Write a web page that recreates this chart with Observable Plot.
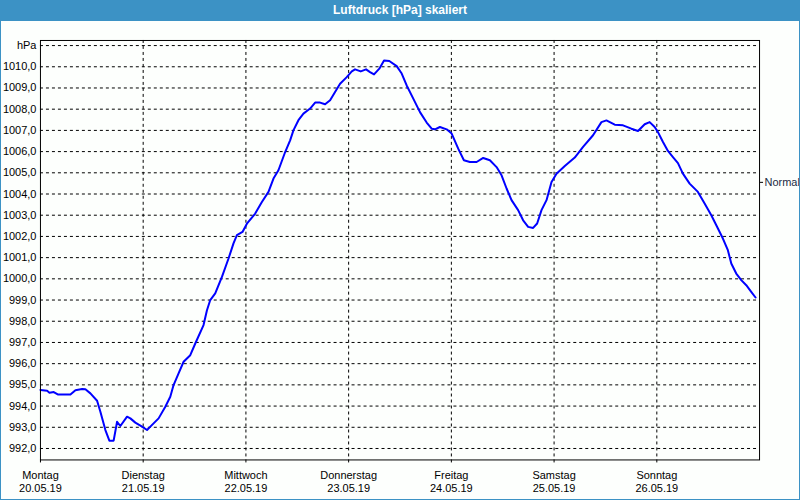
<!DOCTYPE html>
<html>
<head>
<meta charset="utf-8">
<script src="https://cdn.jsdelivr.net/npm/d3@7"></script>
<script src="https://cdn.jsdelivr.net/npm/@observablehq/plot@0.6"></script>
<style>
  html, body { margin: 0; padding: 0; background: #ffffff; }
  #win { position: relative; width: 800px; height: 500px; box-sizing: border-box;
         border-left: 1px solid #3c92c5; border-right: 1px solid #3c92c5; border-bottom: 1px solid #3c92c5;
         background: #fdfffd; overflow: hidden; }
  #title { position: absolute; left: -1px; top: 0; width: 800px; height: 21px; background: #3c92c5;
           color: #ffffff; font: bold 12px "Liberation Sans Narrow", "Liberation Sans", sans-serif;
           text-align: center; line-height: 21px; }
  #chart { position: absolute; left: -1px; top: 21px; }
</style>
</head>
<body>
<div id="win">
  <div id="title">Luftdruck [hPa] skaliert</div>
  <div id="chart"></div>
</div>
<script>
const dayNames = ["Montag", "Dienstag", "Mittwoch", "Donnerstag", "Freitag", "Samstag", "Sonntag"];
const dayDates = ["20.05.19", "21.05.19", "22.05.19", "23.05.19", "24.05.19", "25.05.19", "26.05.19"];
const dayHours = [0, 24, 48, 72, 96, 120, 144];
const yTicks = [992, 993, 994, 995, 996, 997, 998, 999, 1000, 1001, 1002, 1003, 1004, 1005, 1006, 1007, 1008, 1009, 1010, 1011];
const unitTick = 1011;
const normalValue = [1004.55];
const normalLabel = "Normal";

const hours = [0, 1.56, 2.1, 3.1, 4.04, 7.0, 8.17, 9.73, 10.5, 11.67, 13.23, 14.0, 15.17, 16.1, 17.1, 17.9, 18.67, 20.23, 21.0, 22.17, 23.73,
  24.9, 25.67, 27.6, 29.17, 30.33, 31.1, 32.27, 33.44, 35.0, 36.17, 38.1, 38.9, 39.67, 40.83, 42.4, 43.94, 45.1, 45.9, 47.2,
  48.23, 50.17, 51.73, 53.27, 54.44, 55.6, 57.17, 58.33, 59.1, 60.27, 61.44, 63.0, 64.17, 65.33, 66.5, 67.67, 68.83, 70.0, 71.56,
  72.73, 73.5, 74.83, 76.07, 77.0, 77.93, 79.17, 80.27, 81.5, 83.23, 84.4, 85.56, 87.1, 88.67, 90.23, 91.4, 92.17, 93.33, 94.9,
  96.07, 97.6, 98.93, 100.33, 101.9, 103.44, 105.0, 106.56, 107.73, 108.9, 110.06, 111.6, 112.77, 113.94, 115.1, 116.04, 117.06, 118.23, 119.4,
  120.56, 122.5, 124.83, 126.77, 129.1, 131.06, 132.23, 134.17, 136.1, 138.06, 139.6, 141.17, 142.33, 143.5,
  144.27, 145.44, 146.6, 147.77, 148.94, 150.1, 151.67, 153.6, 155.17, 156.73, 157.9, 159.44, 160.6, 161.4, 162.56, 163.73, 164.9, 166.06, 167.07];
const pressure = [994.76, 994.72, 994.63, 994.66, 994.55, 994.55, 994.75, 994.8, 994.79, 994.6, 994.25, 993.73, 992.87, 992.37, 992.37, 993.26, 993.06, 993.5, 993.42, 993.22, 993.03,
  992.87, 993.03, 993.42, 993.97, 994.44, 994.99, 995.54, 996.09, 996.4, 996.95, 997.82, 998.52, 999.0, 999.31, 1000.09, 1000.96, 1001.67, 1002.06, 1002.21,
  1002.6, 1003.08, 1003.62, 1004.1, 1004.73, 1005.12, 1005.98, 1006.53, 1007.0, 1007.48, 1007.79, 1008.03, 1008.31, 1008.31, 1008.23, 1008.42, 1008.81, 1009.2, 1009.51,
  1009.78, 1009.88, 1009.78, 1009.88, 1009.75, 1009.64, 1009.91, 1010.3, 1010.27, 1010.03, 1009.68, 1009.12, 1008.5, 1007.86, 1007.37, 1007.08, 1007.05, 1007.16, 1007.05,
  1006.85, 1006.14, 1005.59, 1005.51, 1005.51, 1005.7, 1005.59, 1005.27, 1004.88, 1004.26, 1003.71, 1003.24, 1002.76, 1002.45, 1002.4, 1002.61, 1003.24, 1003.71, 1004.57,
  1004.96, 1005.32, 1005.72, 1006.22, 1006.77, 1007.39, 1007.47, 1007.27, 1007.24, 1007.08, 1006.97, 1007.29, 1007.39, 1007.16,
  1006.92, 1006.45, 1006.03, 1005.74, 1005.46, 1004.96, 1004.49, 1004.1, 1003.55, 1003.0, 1002.53, 1001.9, 1001.35, 1000.72, 1000.25, 999.94, 999.7, 999.39, 999.12];

const data = hours.map((h, i) => ({h, p: pressure[i]}));
const fmt = v => v === unitTick ? "hPa" : v.toFixed(1).replace(".", ",");

const chart = Plot.plot({
  width: 800,
  height: 479,
  marginTop: 19,
  marginBottom: 40,
  marginLeft: 40,
  marginRight: 40,
  style: {fontFamily: "'Liberation Sans', Arial, sans-serif", fontSize: "11px", background: "transparent", color: "#000"},
  x: {domain: [0, 168], label: null},
  y: {domain: [991.46, 1011.24], label: null},
  marks: [
    Plot.gridY(yTicks, {stroke: "#000", strokeOpacity: 1, strokeDasharray: "3,3"}),
    Plot.gridX(dayHours.slice(1), {stroke: "#000", strokeOpacity: 1, strokeDasharray: "3,3"}),
    Plot.axisY(yTicks, {tickFormat: fmt, tickSize: 0, tickPadding: 4, fill: "#000", label: null}),
    Plot.axisY(normalValue, {anchor: "right", tickFormat: () => normalLabel, tickSize: 3, tickPadding: 2, fill: "#1b2a44", stroke: "#000", label: null}),
    Plot.axisX(dayHours, {tickFormat: (d, i) => dayNames[i], tickSize: 3, tickPadding: 8, fill: "#000", label: null}),
    Plot.axisX(dayHours, {tickFormat: (d, i) => dayDates[i], tickSize: 0, tickPadding: 24, fill: "#000", label: null}),
    Plot.line(data, {x: "h", y: "p", stroke: "#0000ff", strokeWidth: 2}),
    Plot.frame({stroke: "#000"})
  ]
});
document.getElementById("chart").appendChild(chart);
</script>
</body>
</html>
